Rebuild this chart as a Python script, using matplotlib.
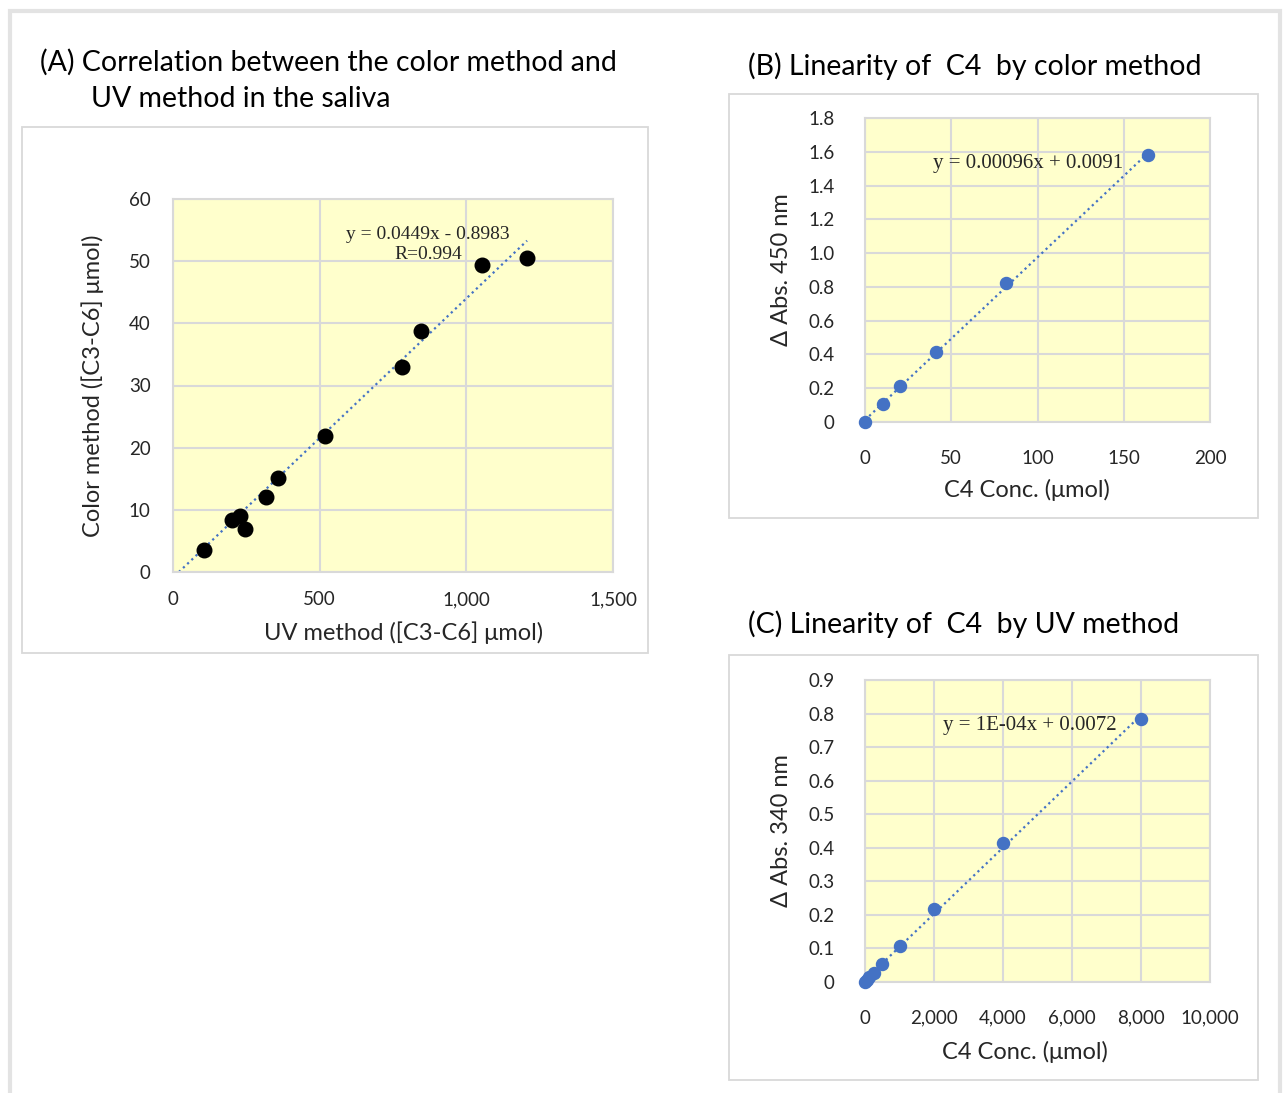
import numpy as np
import matplotlib.pyplot as plt
from matplotlib.patches import Rectangle

plt.rcParams['font.family'] = ['Lato', 'DejaVu Sans']

# (A) saliva samples: UV method vs color method
uv_saliva = [106, 201, 228, 245, 317, 358, 518, 781, 846, 1054, 1207]
color_saliva = [3.5, 8.4, 9.0, 6.9, 12.1, 15.1, 21.9, 33.0, 38.7, 49.4, 50.5]
slope_a, icpt_a = 0.0449, -0.8983

# (B) C4 standards, color method
conc_b = [0, 10.25, 20.5, 41, 82, 164]
abs450 = [0.0, 0.107, 0.211, 0.412, 0.821, 1.581]

# (C) C4 standards, UV method
conc_c = [0, 62.5, 125, 250, 500, 1000, 2000, 4000, 8000]
abs340 = [0.0, 0.007, 0.014, 0.027, 0.054, 0.108, 0.218, 0.413, 0.785]

xt_a = [0, 500, 1000, 1500]
xl_a = ['0', '500', '1,000', '1,500']
yt_a = [0, 10, 20, 30, 40, 50, 60]
xt_b = [0, 50, 100, 150, 200]
yt_b = [0, 0.2, 0.4, 0.6, 0.8, 1.0, 1.2, 1.4, 1.6, 1.8]
yl_b = ['0', '0.2', '0.4', '0.6', '0.8', '1.0', '1.2', '1.4', '1.6', '1.8']
xt_c = [0, 2000, 4000, 6000, 8000, 10000]
xl_c = ['0', '2,000', '4,000', '6,000', '8,000', '10,000']
yt_c = [0, 0.1, 0.2, 0.3, 0.4, 0.5, 0.6, 0.7, 0.8, 0.9]
yl_c = ['0', '0.1', '0.2', '0.3', '0.4', '0.5', '0.6', '0.7', '0.8', '0.9']

W, H = 1285, 1093
fig = plt.figure(figsize=(W / 100, H / 100), dpi=100)

BLUE = '#4472c4'
GRID = '#d9d9d9'
TXT = '#262626'


def px_axes(l, t, r, b):
    return fig.add_axes([l / W, 1 - b / H, (r - l) / W, (b - t) / H])


def box(l, t, r, b, color='#d9d9d9', lw=1.3):
    fig.patches.append(Rectangle((l / W, 1 - b / H), (r - l) / W, (b - t) / H,
                                 transform=fig.transFigure, fill=False,
                                 edgecolor=color, lw=lw))


def ftext(x, y, s, **kw):
    fig.text(x / W, 1 - y / H, s, **kw)


def style(ax, xt, xl, yt, yl, xpad, ypad):
    ax.set_facecolor('#ffffcc')
    ax.set_xticks(xt, xl)
    ax.set_yticks(yt, yl)
    ax.set_xlim(xt[0], xt[-1])
    ax.set_ylim(yt[0], yt[-1])
    ax.grid(True, color=GRID, lw=1.5)
    ax.set_axisbelow(True)
    for s in ax.spines.values():
        s.set_color(GRID)
        s.set_linewidth(1.5)
    ax.tick_params(length=0, labelsize=13.5, labelcolor=TXT)
    ax.tick_params(axis='x', pad=xpad)
    ax.tick_params(axis='y', pad=ypad)


# outer frame and panel boxes
box(10, 11, 1280, 1110, color='#e3e3e3', lw=3)
box(22, 127, 648, 653)
box(729, 94, 1258, 518)
box(729, 655, 1258, 1080)

# ---- (A)
ax = px_axes(173, 199, 613, 572)
style(ax, xt_a, xl_a, yt_a, [str(v) for v in yt_a], 14, 16)
xa = np.array([-icpt_a / slope_a, max(uv_saliva)])
ax.plot(xa, slope_a * xa + icpt_a, ls=(0, (1, 1.6)), color=BLUE, lw=1.6, zorder=2)
ax.scatter(uv_saliva, color_saliva, s=110, color='black', zorder=3, clip_on=False)
ax.text(0.58, 0.878, 'y = 0.0449x - 0.8983\nR=0.994', transform=ax.transAxes,
        ha='center', va='center', family='Liberation Serif', fontsize=14,
        color=TXT, linespacing=1.25)
ax.set_xlabel('UV method ([C3-C6] μmol)', fontsize=17, color=TXT, labelpad=9, x=0.525)
ax.set_ylabel('Color method ([C3-C6] μmol)', fontsize=17, color=TXT, labelpad=18)

# ---- (B)
ax = px_axes(865, 118, 1210, 422)
style(ax, xt_b, [str(v) for v in xt_b], yt_b, yl_b, 20, 22)
cb = np.polyfit(conc_b, abs450, 1)
xb = np.array([min(conc_b), max(conc_b)])
ax.plot(xb, np.polyval(cb, xb), ls=(0, (1, 1.6)), color=BLUE, lw=1.6, zorder=2)
ax.scatter(conc_b, abs450, s=75, color=BLUE, zorder=3, clip_on=False)
ax.text(0.472, 0.849, 'y = 0.00096x + 0.0091', transform=ax.transAxes,
        ha='center', va='center', family='Liberation Serif', fontsize=15, color=TXT)
ax.set_xlabel('C4 Conc. (μmol)', fontsize=17, color=TXT, labelpad=9, x=0.47)
ax.set_ylabel('Δ Abs. 450 nm', fontsize=17, color=TXT, labelpad=12)

# ---- (C)
ax = px_axes(865, 680, 1210, 982)
style(ax, xt_c, xl_c, yt_c, yl_c, 20, 22)
cc = np.polyfit(conc_c, abs340, 1)
xc = np.array([min(conc_c), max(conc_c)])
ax.plot(xc, np.polyval(cc, xc), ls=(0, (1, 1.6)), color=BLUE, lw=1.6, zorder=2)
ax.scatter(conc_c, abs340, s=75, color=BLUE, zorder=3, clip_on=False)
ax.text(0.478, 0.848, 'y = 1E-04x + 0.0072', transform=ax.transAxes,
        ha='center', va='center', family='Liberation Serif', fontsize=15, color=TXT)
ax.set_xlabel('C4 Conc. (μmol)', fontsize=17, color=TXT, labelpad=10, x=0.464)
ax.set_ylabel('Δ Abs. 340 nm', fontsize=17, color=TXT, labelpad=12)

# panel titles
ftext(40, 62, '(A) Correlation between the color method and', fontsize=20.5,
      color='black', va='center', ha='left')
ftext(91, 99, 'UV method in the saliva', fontsize=20.5, color='black',
      va='center', ha='left')
ftext(748, 66, '(B) Linearity of  C4  by color method', fontsize=20.5,
      color='black', va='center', ha='left')
ftext(748, 624, '(C) Linearity of  C4  by UV method', fontsize=20.5,
      color='black', va='center', ha='left')

fig.savefig('out.png', dpi=100)
